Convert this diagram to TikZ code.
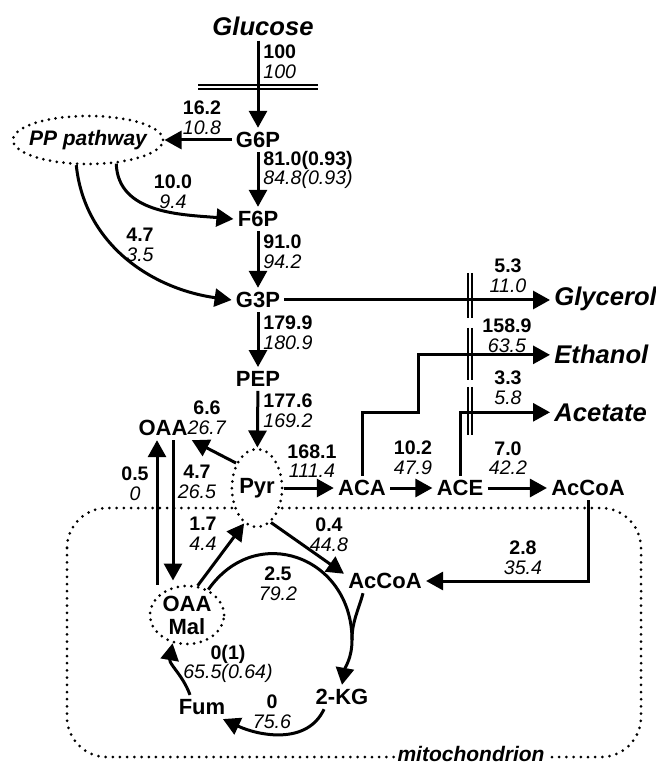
\documentclass[tikz,border=0pt]{standalone}
\usepackage{fontspec}
\setmainfont{Liberation Sans}
\usetikzlibrary{arrows.meta,shapes.geometric}

\begin{document}
\begin{tikzpicture}[x=0.5pt,y=-0.5pt,
  met/.style={font=\fontsize{11}{11.5}\selectfont\bfseries,inner sep=2pt},
  ext/.style={font=\fontsize{12.8}{14}\selectfont\bfseries\itshape,inner sep=2pt},
  pool/.style={ellipse,draw,fill=white,line width=1.5pt,dash pattern=on 0pt off 3.4pt,line cap=round,inner sep=0pt},
  flux/.style={font=\fontsize{9.8}{9.8}\selectfont,align=center,inner sep=0pt},
  fluxl/.style={flux,align=left,anchor=west},
  flow/.style={line width=1.5pt,-{Triangle[length=8.5pt,width=9pt]}},
  cut/.style={line width=0.7pt}]
  \useasboundingbox (0,0) rectangle (655,763);
  \draw[line width=1.5pt,dash pattern=on 0pt off 3.6pt,line cap=round,rounded corners=20pt] (67,508) rectangle (641,757);
  \node[fill=white,inner sep=1pt,font=\fontsize{10.5}{11}\selectfont\bfseries\itshape] (mito) at (471,754) {mitochondrion};

  \node[ext,anchor=base] (glc) at (263,36) {Glucose};
  \node[pool,inner xsep=-5pt,minimum width=75pt,minimum height=24pt,font=\fontsize{10.5}{11}\selectfont\bfseries\itshape] (pp) at (88,140) {PP pathway};
  \foreach \n/\t/\x/\y in {g6p/G6P/258/140, f6p/F6P/258/219, g3p/G3P/258/300, pep/PEP/258/379,
    oaac/OAA/163/428, aca/ACA/362/488, ace/ACE/460/488, accoa/AcCoA/588/488,
    accoam/AcCoA/385/581, akg/2-KG/342/697, fum/Fum/202/707}
    \node[met] (\n) at (\x,\y) {\t};
  \node[met,pool,minimum width=22.5pt,minimum height=39pt] (pyr) at (257,488) {Pyr};
  \node[met,pool,align=center,minimum width=37pt,minimum height=29pt] (oaam) at (187,615) {OAA\\Mal};
  \node[ext,anchor=base west] (gly) at (550,306) {Glycerol};
  \node[ext,anchor=base west] (eth) at (550,364) {Ethanol};
  \node[ext,anchor=base west] (act) at (550,421) {Acetate};

  \foreach \n/\x/\y/\a/\b in {vpp/202/118/16.2/10.8, vf6/173/192/10.0/9.4, vg3/140/245/4.7/3.5,
    vgly/508/276/5.3/11.0, veth/507/336/158.9/63.5, vact/508/388/3.3/5.8,
    voaa/207/418/6.6/26.7, vaca/312/461/168.1/111.4, vace/413/458/10.2/47.9,
    vacc/508/458/7.0/42.2, vpc/135/484/0.5/0, vme/197/482/4.7/26.5,
    vmp/203/534/1.7/4.4, vpdh/329/535/0.4/44.8, vtr/523/558/2.8/35.4,
    vcs/278/584/2.5/79.2, vfum/228/664/0(1)/65.5(0.64), vkg/272/712/0/75.6}
    \node[flux] (\n) at (\x,\y) {\textbf{\a}\\\textit{\b}};
  \foreach \n/\y/\a/\b in {vglc/62/100/100, vpgi/170/81.0(0.93)/84.8(0.93),
    vpfk/252/91.0/94.2, vgap/333/179.9/180.9, vpk/411/177.6/169.2}
    \node[fluxl] (\n) at (263,\y) {\textbf{\a}\\\textit{\b}};

  \draw[cut] (198,85) -- (318,85) (198,89) -- (318,89);
  \foreach \a/\b in {273/318,328/380,387/435}
    \draw[cut] (468,\a) -- (468,\b) (472,\a) -- (472,\b);

  \draw[flow] (glc.south -| g6p.north) -- (g6p.north);
  \draw[flow] (g6p) -- (pp);
  \draw[flow] (g6p) -- (f6p);
  \draw[flow] (f6p) -- (g3p);
  \draw[flow] (g3p) -- (pep);
  \draw[flow] (pep) -- (pyr);
  \draw[flow] (pp.-40) to[out=-88,in=175] (f6p.west);
  \draw[flow] (pp.-115) to[out=-84,in=172] (g3p.west);
  \draw[flow] (g3p) -- (g3p -| gly.west);
  \draw[flow] (pyr) -- (aca);
  \draw[flow] (aca) -- (ace);
  \draw[flow] (ace) -- (accoa);
  \draw[flow] (aca.north) |- (418,412) |- (eth.west);
  \draw[flow] (ace.north) |- (act.west);
  \draw[flow] (accoa.south) |- (accoam.east);
  \draw[flow] (pyr.130) -- (oaac.south east);
  \draw[flow] ([xshift=-15pt]oaam.north) -- ([xshift=-3pt]oaac.south);
  \draw[flow,shorten >=2pt] ([xshift=5pt]oaac.south) -- ([xshift=-7pt]oaam.north);
  \draw[flow] (oaam.70) -- (pyr.250);
  \draw[flow] (pyr.-68) -- (accoam.170);
  \coordinate (tca) at (352,640);
  \draw[flow] (oaam.50) to[out=55,in=90,looseness=1.4] (tca) to[out=-90,in=80] (akg.north);
  \draw[line width=1.5pt] ([xshift=-11pt]accoam.south) to[out=-105,in=90] (tca);
  \draw[flow] ([xshift=-9pt]akg.south) to[out=-115,in=-25] (fum.-30);
  \draw[flow] ([xshift=-6pt]fum.north) to[out=110,in=-100] (oaam.-117);
\end{tikzpicture}
\end{document}
